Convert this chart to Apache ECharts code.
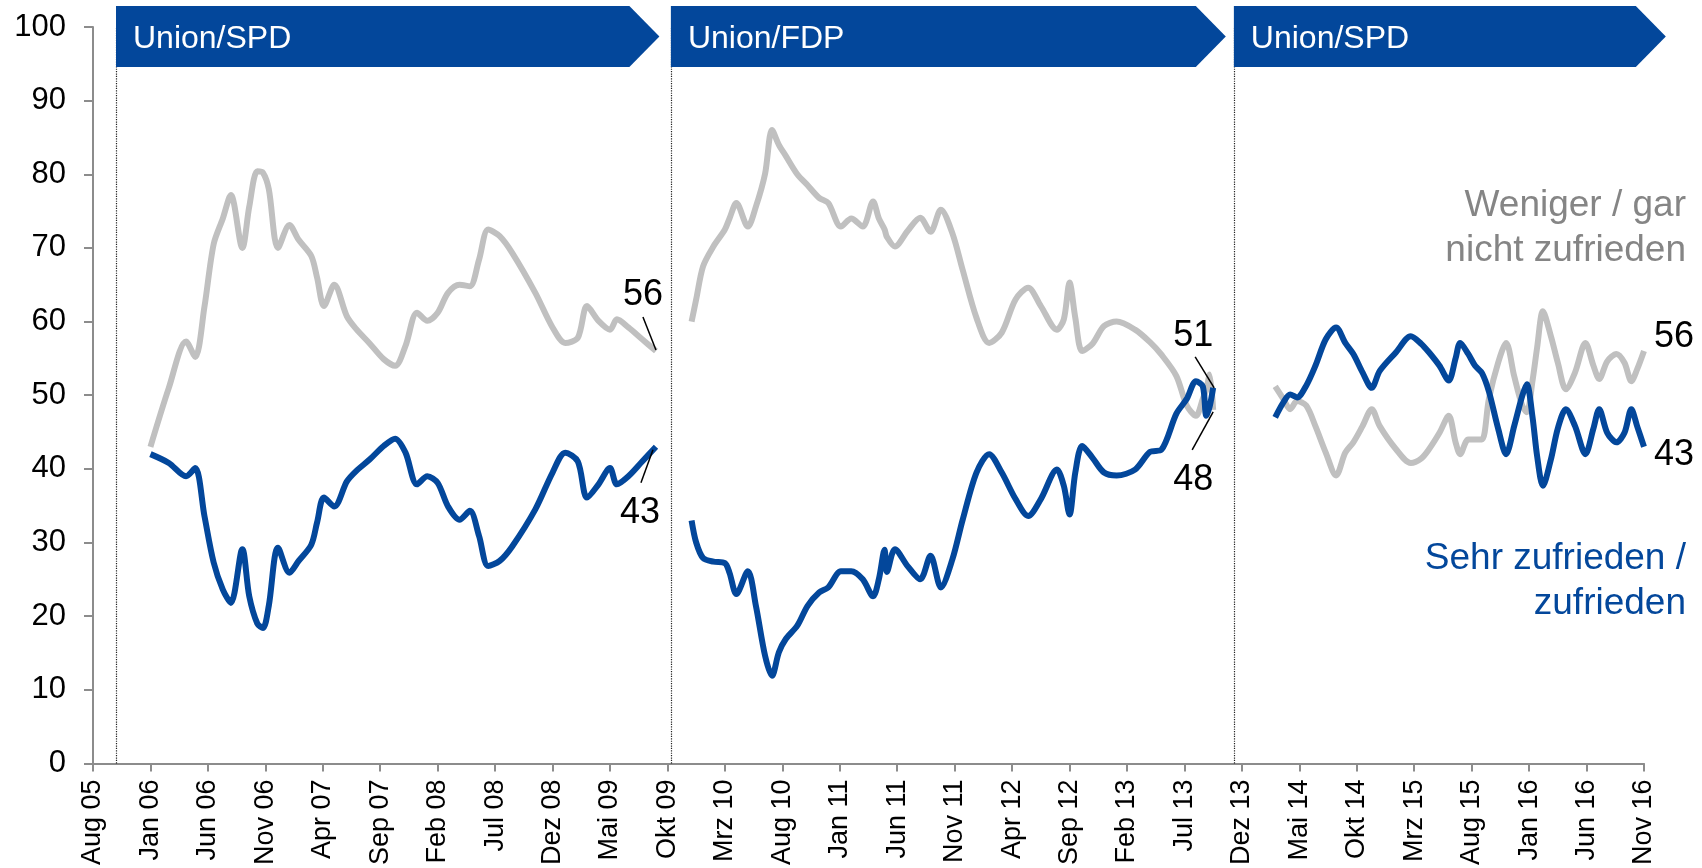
<!DOCTYPE html>
<html>
<head>
<meta charset="utf-8">
<title>Zufriedenheit mit der Bundesregierung</title>
<script src="https://cdn.jsdelivr.net/npm/echarts@6/dist/echarts.min.js"></script>
<style>
  html, body { margin: 0; padding: 0; background: #fff; }
  #chart { width: 1702px; height: 868px; }
</style>
</head>
<body>
<div id="chart"></div>
<script>
// x-Werte: Monate seit Aug 05 (0 = Aug 05, 5 = Jan 06, ...)
const tickLabels = ['Aug 05', 'Jan 06', 'Jun 06', 'Nov 06', 'Apr 07', 'Sep 07', 'Feb 08', 'Jul 08',
  'Dez 08', 'Mai 09', 'Okt 09', 'Mrz 10', 'Aug 10', 'Jan 11', 'Jun 11', 'Nov 11', 'Apr 12',
  'Sep 12', 'Feb 13', 'Jul 13', 'Dez 13', 'Mai 14', 'Okt 14', 'Mrz 15', 'Aug 15', 'Jan 16',
  'Jun 16', 'Nov 16'];

// Regierungen
const governments = ['Union/SPD', 'Union/FDP', 'Union/SPD'];
const govStart = [2, 50.3, 99.3];
const govEnd = [49.3, 98.6, 136.9];

// 1. Periode (Union/SPD)
const p1Months = [5, 6.6, 8.1, 8.9, 9.7, 10.5, 11.3, 12, 13, 13.6, 14.3, 14.8, 15.3, 16.1, 17.1, 17.9,
  19, 19.5, 20.1, 21, 22.1, 22.9, 24.1, 25.3, 26.3, 27.2, 28.2, 29.1, 30, 30.9, 31.9, 32.8, 33.6,
  34.4, 35.4, 36.5, 38.5, 40, 41.1, 42.2, 43, 44, 45, 45.6, 46.6, 47.8, 49];
const p1Unzufrieden = [43, 51, 57.3, 55.2, 62, 70.5, 74, 77.2, 70, 75.6, 80.4, 80.2, 78, 70, 73.1, 71.1,
  68.9, 66, 62.1, 65, 60.7, 59, 57, 54.9, 54, 56.7, 61.2, 60.1, 61.2, 63.9, 65, 64.8, 68.4,
  72.5, 71.6, 69.3, 63.9, 59.2, 57.1, 57.8, 62.1, 60.1, 58.9, 60.3, 59.2, 57.6, 56];
const p1Zufrieden = [42, 40.8, 39, 40.1, 33.6, 27.3, 23.6, 21.8, 29.1, 22.7, 19, 18.4, 21.4, 29.3, 25.9, 27.5,
  29.7, 32.7, 36.1, 34.9, 38.3, 39.7, 41.3, 43.1, 44.1, 42.2, 37.9, 39, 38.1, 34.9, 33.1, 34.3, 30.9,
  26.8, 27.5, 29.5, 34.5, 39.5, 42.2, 41, 36.1, 37.9, 40.1, 37.9, 39, 41, 43];

// 2. Periode (Union/FDP)
const p2Months = [52.1, 52.5, 53.1, 54, 55, 55.4, 56, 57, 57.7, 58.5, 59.1, 59.7, 60.3, 61.3, 62.2, 63.2,
  64, 65.1, 66, 67, 67.9, 68.4, 68.9, 69.1, 69.8, 70.9, 72, 72.9, 73.8, 74.8, 75.7, 76.9, 78, 79.1,
  80.3, 81.4, 82.5, 83.9, 84.5, 85, 85.5, 86.1, 87, 88, 89.1, 90.7, 92, 93, 94.3, 95.2, 96, 96.6,
  96.9, 97.2, 97.5];
const p2Unzufrieden = [60, 63, 67.5, 70.2, 72.5, 74, 76.1, 72.9, 75.6, 80.1, 86, 84, 82.5, 80, 78.5, 76.8,
  76.1, 72.9, 74, 72.9, 76.3, 74, 72.5, 71.5, 70.2, 72.3, 74.1, 72.2, 75.2, 72, 67, 60.5, 57.1, 58.5,
  63, 64.6, 62.1, 58.9, 60.3, 65.3, 60.5, 56, 57, 59.4, 60, 58.9, 57.2, 55.5, 52.6, 48.6, 47.2, 49.5,
  50.8, 52.8, 48];
const p2Zufrieden = [33, 30, 27.9, 27.4, 27.2, 25.9, 23, 26.1, 21.4, 14.6, 11.9, 15.1, 16.9, 18.7, 21.4, 23.2,
  23.9, 26.1, 26.1, 25, 22.7, 25, 29, 26, 29.1, 26.8, 25, 28.2, 23.9, 27.7, 33.1, 39.5, 42, 39.5,
  35.9, 33.6, 35.9, 39.9, 37.7, 33.8, 39.5, 43.1, 41.5, 39.5, 39.1, 39.9, 42.3, 42.6, 47.5, 49.5, 51.9, 51.2,
  47.2, 48.5, 51];

// 3. Periode (Union/SPD)
const p3Months = [102.9, 103.6, 104.2, 104.8, 105.6, 106.4, 107.3, 108.2, 109, 109.7, 110.5, 111.3, 112,
  113.4, 114.7, 115.6, 116.3, 117.2, 118, 118.6, 119, 119.7, 120.3, 120.9, 121.5, 122.3, 123, 123.7,
  124.4, 124.8, 125.3, 125.7, 126.2, 126.9, 127.5, 128.2, 129, 129.9, 130.6, 131.1, 131.8, 132.6,
  133.3, 133.9, 134.4, 135];
const p3Unzufrieden = [51.2, 49.5, 48.1, 49.2, 48.6, 45.8, 42.2, 39.1, 42.2, 43.6, 45.8, 48.1, 45.8,
  42.7, 40.8, 41.4, 42.7, 44.9, 47.2, 43.6, 42, 44, 44, 44, 49.5, 54.4, 57.1, 52.6,
  48.6, 47.7, 52, 56.5, 61.4, 58, 54.4, 50.8, 53.1, 57.1, 54, 52.2, 54.6, 55.6,
  54.4, 51.9, 53.5, 56];
const p3Zufrieden = [47, 49, 50.1, 49.7, 51.3, 54, 57.6, 59.2, 57.1, 55.6, 53.1, 51, 53.3,
  55.8, 58, 57, 55.8, 54, 52, 55, 57.1, 55.6, 54, 53, 50.5, 45.5, 42, 45.8,
  49.9, 51.5, 47, 41.7, 37.7, 41.3, 45.5, 48.1, 45.8, 42, 45.5, 48.1, 44.9, 43.6,
  44.9, 48.1, 45.8, 43];

const BLUE = '#03479b';
const GREY = '#c0c0c0';
const FONT = '"Liberation Sans", Arial, sans-serif';

const periods = [
  { months: p1Months, sat: p1Zufrieden, dis: p1Unzufrieden },
  { months: p2Months, sat: p2Zufrieden, dis: p2Unzufrieden },
  { months: p3Months, sat: p3Zufrieden, dis: p3Unzufrieden }
];

// Position der Endwerte (Pixelversatz zum letzten Punkt), Leitlinie optional
const endLabels = [
  { dis: { dx: -13, dy: -56, line: [-13, -34, 0, -1] }, sat: { dx: -16, dy: 66, line: [-15, 36, -3, 3] } },
  { dis: { dx: -20, dy: 70, line: [-21, 40, 0, 2] }, sat: { dx: -20, dy: -52, line: [-18, -31, 1, 0] } },
  { dis: { dx: 30, dy: -14 }, sat: { dx: 30, dy: 8 } }
];

function pairs(xs, ys) {
  return xs.map((x, i) => [x, ys[i]]);
}

const chart = echarts.init(document.getElementById('chart'));

const series = [];
periods.forEach(p => {
  series.push({
    type: 'line', data: pairs(p.months, p.dis), smooth: 0.3, symbol: 'none',
    lineStyle: { color: GREY, width: 6 }, z: 2
  });
  series.push({
    type: 'line', data: pairs(p.months, p.sat), smooth: 0.3, symbol: 'none',
    lineStyle: { color: BLUE, width: 6 }, z: 3
  });
});
series[0].markLine = {
  silent: true,
  symbol: 'none',
  label: { show: false },
  lineStyle: { color: '#222', type: 'dotted', width: 1.2 },
  data: govStart.map(m => ({ xAxis: m }))
};

chart.setOption({
  animation: false,
  textStyle: { fontFamily: FONT },
  grid: { left: 93, right: 58, top: 27, bottom: 103 },
  xAxis: {
    type: 'value', min: 0, max: 135, interval: 5,
    axisLine: { lineStyle: { color: '#8c8c8c', width: 2 } },
    axisTick: { show: true, length: 8, lineStyle: { color: '#8c8c8c', width: 2 } },
    axisLabel: {
      rotate: 90, margin: 16, fontSize: 27, color: '#000', fontFamily: FONT,
      formatter: v => tickLabels[Math.round(v / 5)]
    },
    splitLine: { show: false }
  },
  yAxis: {
    type: 'value', min: 0, max: 100, interval: 10,
    axisLine: { show: true, lineStyle: { color: '#8c8c8c', width: 2 } },
    axisTick: { show: true, length: 9, lineStyle: { color: '#8c8c8c', width: 2 } },
    axisLabel: { fontSize: 31, margin: 27, color: '#000', fontFamily: FONT },
    splitLine: { show: false }
  },
  series: series
});

// Banner, Endwerte und Beschriftungen
const toPx = (x, y) => chart.convertToPixel({ gridIndex: 0 }, [x, y]);
const graphics = [];

governments.forEach((name, i) => {
  const x0 = toPx(govStart[i], 0)[0];
  const tip = toPx(govEnd[i], 0)[0];
  graphics.push({
    type: 'polygon', z: 10,
    shape: { points: [[x0, 6], [tip - 30, 6], [tip, 36.5], [tip - 30, 67], [x0, 67]] },
    style: { fill: BLUE }
  });
  graphics.push({
    type: 'text', z: 11, x: x0 + 17, y: 39,
    style: { text: name, fill: '#fff', font: '32px ' + FONT, textVerticalAlign: 'middle', verticalAlign: 'middle' }
  });
});

function addEndLabel(value, pt, cfg) {
  graphics.push({
    type: 'text', z: 11, x: pt[0] + cfg.dx, y: pt[1] + cfg.dy,
    style: {
      text: String(Math.round(value)), fill: '#000', font: '36px ' + FONT,
      textAlign: 'center', align: 'center', textVerticalAlign: 'middle', verticalAlign: 'middle'
    }
  });
  if (cfg.line) {
    graphics.push({
      type: 'line', z: 11,
      shape: { x1: pt[0] + cfg.line[0], y1: pt[1] + cfg.line[1], x2: pt[0] + cfg.line[2], y2: pt[1] + cfg.line[3] },
      style: { stroke: '#000', lineWidth: 1.5 }
    });
  }
}

periods.forEach((p, i) => {
  const n = p.months.length - 1;
  addEndLabel(p.dis[n], toPx(p.months[n], p.dis[n]), endLabels[i].dis);
  addEndLabel(p.sat[n], toPx(p.months[n], p.sat[n]), endLabels[i].sat);
});

function addLegendText(text, y, color) {
  graphics.push({
    type: 'text', z: 11, x: 1686, y: y,
    style: {
      text: text, fill: color, font: '37px ' + FONT,
      textAlign: 'right', align: 'right', textVerticalAlign: 'middle', verticalAlign: 'middle'
    }
  });
}
addLegendText('Weniger / gar', 206, '#858585');
addLegendText('nicht zufrieden', 251, '#858585');
addLegendText('Sehr zufrieden /', 559, BLUE);
addLegendText('zufrieden', 604, BLUE);

chart.setOption({ graphic: { elements: graphics } });
</script>
</body>
</html>
